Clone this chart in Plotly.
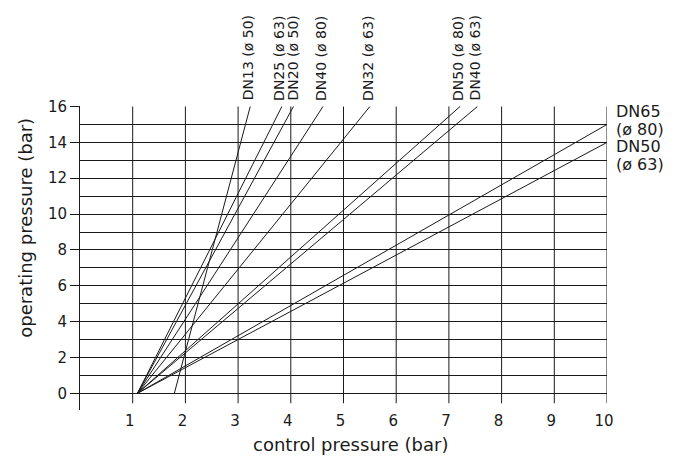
import plotly.graph_objects as go

# ---- data ----
line_names = ["DN13 (ø 50)", "DN25 (ø 63)", "DN20 (ø 50)", "DN40 (ø 80)",
              "DN32 (ø 63)", "DN50 (ø 80)", "DN40 (ø 63)", "DN65 (ø 80)", "DN50 (ø 63)"]
start_x = [1.79, 1.09, 1.09, 1.09, 1.09, 1.09, 1.09, 1.09, 1.09]
start_y = [0, 0, 0, 0, 0, 0, 0, 0, 0]
end_x = [3.23, 3.83, 4.05, 4.61, 5.50, 7.21, 7.54, 10.0, 10.0]
end_y = [16, 16, 16, 16, 16, 16, 16, 15, 14]

x_ticks = [1, 2, 3, 4, 5, 6, 7, 8, 9, 10]
y_ticks = [0, 2, 4, 6, 8, 10, 12, 14, 16]

x_title = "control pressure (bar)"
y_title = "operating pressure (bar)"

INK = "#1a1a1a"
FONT = "DejaVu Sans"

fig = go.Figure()

for name, sx, sy, ex, ey in zip(line_names, start_x, start_y, end_x, end_y):
    fig.add_trace(go.Scatter(x=[sx, ex], y=[sy, ey], mode="lines",
                             line=dict(color=INK, width=1), name=name,
                             showlegend=False, hoverinfo="skip"))

# vertical grid lines (extend slightly below zero, as in the reference)
for v in x_ticks:
    fig.add_shape(type="line", xref="x", yref="y", x0=v, x1=v, y0=-0.55, y1=max(y_ticks),
                  line=dict(color=INK, width=1), layer="below")

# small horizontal nudges so the close rotated labels sit side by side
top_label_shift = {"DN25 (ø 63)": -3, "DN20 (ø 50)": 0}

# labels for the lines
for name, ex, ey in zip(line_names, end_x, end_y):
    if ey >= max(y_ticks):
        fig.add_annotation(x=ex, y=ey, xref="x", yref="y", text=name, textangle=-90,
                           showarrow=False, xanchor="center", yanchor="bottom",
                           xshift=top_label_shift.get(name, -2), yshift=4,
                           font=dict(family=FONT, size=14, color=INK))
    else:
        first, second = name.split(" ", 1)
        top_shift = 13 if ey == 15 else -4
        fig.add_annotation(x=ex, y=ey, xref="x", yref="y", text=first,
                           showarrow=False, xanchor="left", yanchor="middle",
                           xshift=7, yshift=top_shift, font=dict(family=FONT, size=16, color=INK))
        fig.add_annotation(x=ex, y=ey, xref="x", yref="y", text=second,
                           showarrow=False, xanchor="left", yanchor="middle",
                           xshift=7, yshift=top_shift - 18, font=dict(family=FONT, size=16, color=INK))

# axis titles
fig.add_annotation(x=0.514, y=-0.115, xref="paper", yref="paper", text=x_title,
                   showarrow=False, xanchor="center", yanchor="middle",
                   font=dict(family=FONT, size=18, color=INK))
fig.add_annotation(x=-0.104, y=0.6, xref="paper", yref="paper", text=y_title, textangle=-90,
                   showarrow=False, xanchor="center", yanchor="middle",
                   font=dict(family=FONT, size=18, color=INK))

# the page body adds an 8px offset, so the figure is 8px smaller on each axis
fig.update_layout(
    width=671, height=453,
    margin=dict(l=72, r=72, t=98, b=51),
    paper_bgcolor="white", plot_bgcolor="white",
    font=dict(family=FONT, size=15, color=INK),
    xaxis=dict(range=[0, 10], tickvals=x_ticks, showgrid=False, zeroline=False,
               showline=False, ticks="", tickfont=dict(family=FONT, size=15, color=INK),
               ticklabelshift=-3),
    yaxis=dict(range=[-0.93, 16.03], tickvals=y_ticks, ticks="outside", ticklen=9,
               tickcolor=INK, tickwidth=1, showgrid=True, gridcolor=INK, gridwidth=1,
               minor=dict(dtick=1, tick0=0, showgrid=True, gridcolor=INK, gridwidth=1, ticks=""),
               showline=True, linecolor=INK, linewidth=1, zeroline=False,
               tickfont=dict(family=FONT, size=15, color=INK)),
)

fig.write_html("out.html")
